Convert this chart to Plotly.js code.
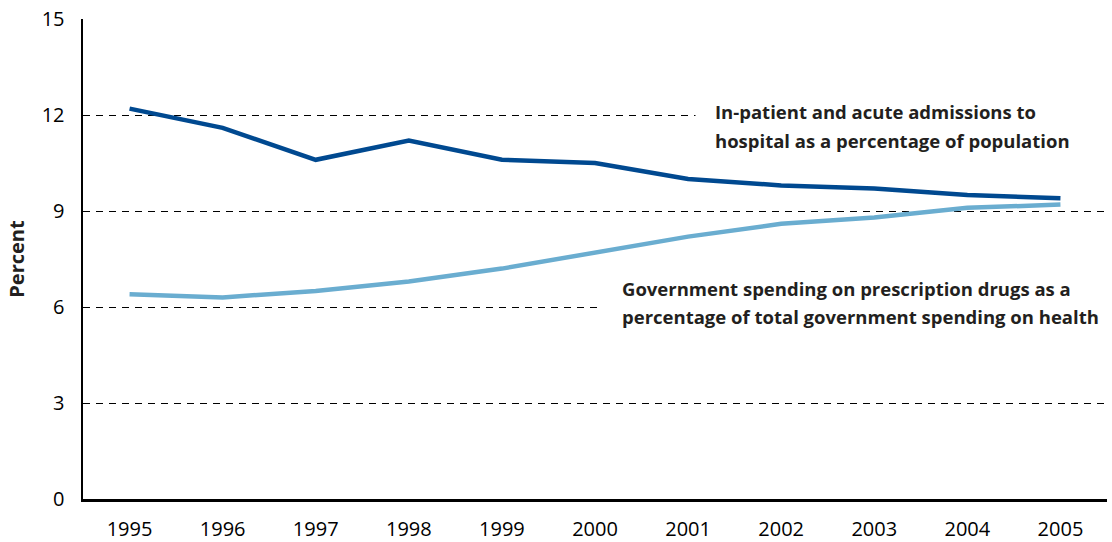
<!DOCTYPE html>
<html>
<head>
<meta charset="utf-8">
<script src="https://cdn.plot.ly/plotly-3.0.1.min.js"></script>
<style>html,body{margin:0;padding:0;background:#fff;}#chart{width:1112px;height:542px;}</style>
</head>
<body>
<div id="chart"></div>
<script>
const years = [1995, 1996, 1997, 1998, 1999, 2000, 2001, 2002, 2003, 2004, 2005];
const admissions = [12.2, 11.6, 10.6, 11.2, 10.6, 10.5, 10.0, 9.8, 9.7, 9.5, 9.4];
const drugSpending = [6.4, 6.3, 6.5, 6.8, 7.2, 7.7, 8.2, 8.6, 8.8, 9.1, 9.2];
const yTicks = [0, 3, 6, 9, 12, 15];
const admissionsLines = ["In-patient and acute admissions to", "hospital as a percentage of population"];
const drugLines = ["Government spending on prescription drugs as a", "percentage of total government spending on health"];

const FONT = "Open Sans, Noto Sans, DejaVu Sans, sans-serif";
const LABEL_FONT = {size: 18.5, family: FONT, color: '#231f20'};

const traces = [
  {x: years, y: drugSpending, type: 'scatter', mode: 'lines',
   line: {color: '#6aadd0', width: 4.5}, hoverinfo: 'skip'},
  {x: years, y: admissions, type: 'scatter', mode: 'lines',
   line: {color: '#004990', width: 4.5}, hoverinfo: 'skip'}
];

function lineAnn(text, x, y) {
  return {xref: 'paper', yref: 'y', x: x, y: y, xanchor: 'left', yanchor: 'middle', align: 'left',
          text: '<b>' + text + '</b>', showarrow: false, font: LABEL_FONT, borderpad: 0};
}
// white masks that hide the dashed gridline behind the text blocks
function maskAnn(x, y, w) {
  return {xref: 'paper', yref: 'y', x: x, y: y, xanchor: 'left', yanchor: 'middle',
          text: '\u00a0', showarrow: false, width: w, height: 8, bgcolor: '#fff',
          borderpad: 0, font: {size: 6}};
}

const layout = {
  width: 1112, height: 542,
  margin: {l: 83, r: 5, t: 19, b: 43},
  paper_bgcolor: '#fff', plot_bgcolor: '#fff',
  showlegend: false,
  font: {family: FONT, color: '#231f20', size: 20},
  xaxis: {
    range: [1994.5, 2005.5], tickvals: years, ticktext: years.map(String),
    showgrid: false, zeroline: false, showline: true, linecolor: '#000', linewidth: 2.5,
    ticks: '', ticklabelstandoff: 10, tickfont: {size: 20, family: FONT, color: '#000'}, fixedrange: true
  },
  yaxis: {
    range: [0, 15], tickvals: yTicks, ticktext: yTicks.map(String),
    showgrid: true, gridcolor: '#000', gridwidth: 1, griddash: '7px,6px',
    zeroline: false, showline: true, linecolor: '#000', linewidth: 2.5,
    ticks: '', ticklabelstandoff: 12, tickfont: {size: 20, family: FONT, color: '#000'},
    title: {text: '<b>Percent</b>', font: {size: 20, family: FONT, color: '#231f20'}, standoff: 12},
    fixedrange: true
  },
  annotations: [
    maskAnn(0.598, 12, 414),
    maskAnn(0.505, 6, 510),
    lineAnn(admissionsLines[0], 0.616, 12.1),
    lineAnn(admissionsLines[1], 0.616, 11.2),
    lineAnn(drugLines[0], 0.525, 6.57),
    lineAnn(drugLines[1], 0.525, 5.69)
  ]
};

Plotly.newPlot('chart', traces, layout, {displayModeBar: false, staticPlot: true});
</script>
</body>
</html>
